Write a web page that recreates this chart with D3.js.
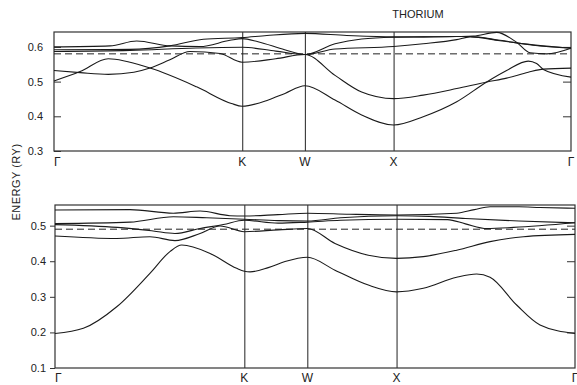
<!DOCTYPE html>
<html>
<head>
<meta charset="utf-8">
<script src="https://cdn.jsdelivr.net/npm/d3@7"></script>
<style>
  body { margin: 0; background: #fff; }
  svg { display: block; font-family: "Liberation Sans", Arial, sans-serif; }
</style>
</head>
<body>
<div id="chart"></div>
<script>
// symmetry points along the path (fcc distances, units of 2pi/a)
const kLabels = ['Γ', 'K', 'W', 'X', 'Γ'];
const kPos = [0, 1.061, 1.414, 1.914, 2.914];

// upper panel, energies in Ry
const topTicks = [0.3, 0.4, 0.5, 0.6];
const topFermi = 0.58;
const topBand1 = [[0,0.502],[0.147,0.529],[0.306,0.566],[0.541,0.539],[0.804,0.485],[1.0,0.437],[1.061,0.429],[1.208,0.447],[1.302,0.466],[1.414,0.488],[1.584,0.447],[1.734,0.404],[1.914,0.375],[2.081,0.399],[2.27,0.442],[2.439,0.499],[2.551,0.532],[2.673,0.559],[2.72,0.552],[2.758,0.535],[2.914,0.513]];
const topBand2 = [[0,0.532],[0.147,0.526],[0.306,0.521],[0.45,0.527],[0.541,0.539],[0.65,0.562],[0.766,0.587],[0.936,0.581],[1.061,0.556],[1.25,0.566],[1.414,0.578],[1.584,0.518],[1.734,0.470],[1.914,0.451],[2.081,0.461],[2.27,0.480],[2.439,0.499],[2.551,0.510],[2.673,0.527],[2.758,0.536],[2.914,0.539]];
const topBand3 = [[0,0.587],[0.428,0.590],[0.8,0.597],[1.061,0.599],[1.25,0.588],[1.414,0.578],[1.584,0.594],[1.914,0.601],[2.081,0.609],[2.27,0.621],[2.345,0.629],[2.514,0.618],[2.701,0.606],[2.914,0.596]];
const topBand4 = [[0,0.600],[0.316,0.603],[0.466,0.617],[0.654,0.603],[0.823,0.601],[0.992,0.619],[1.061,0.624],[1.15,0.615],[1.3,0.592],[1.414,0.578],[1.584,0.609],[1.734,0.623],[1.914,0.628],[2.081,0.629],[2.27,0.630],[2.345,0.630],[2.514,0.619],[2.701,0.605],[2.914,0.597]];
const topBand5 = [[0,0.592],[0.428,0.593],[0.654,0.603],[0.842,0.622],[1.061,0.627],[1.2,0.633],[1.414,0.639],[1.65,0.633],[1.914,0.629],[2.081,0.629],[2.27,0.630],[2.363,0.631],[2.495,0.642],[2.608,0.613],[2.683,0.583],[2.777,0.580],[2.914,0.596]];

// lower panel
const botTicks = [0.1, 0.2, 0.3, 0.4, 0.5];
const botFermi = 0.49;
const botBand1 = [[0,0.197],[0.159,0.2115],[0.346,0.272],[0.532,0.366],[0.644,0.427],[0.710,0.4455],[0.869,0.422],[1.018,0.380],[1.061,0.372],[1.093,0.370],[1.195,0.382],[1.289,0.399],[1.414,0.411],[1.569,0.375],[1.756,0.333],[1.914,0.314],[2.064,0.324],[2.251,0.355],[2.363,0.364],[2.438,0.355],[2.587,0.277],[2.718,0.221],[2.914,0.197]];
const botBand2 = [[0,0.471],[0.346,0.464],[0.532,0.469],[0.672,0.458],[0.813,0.478],[0.925,0.499],[1.061,0.483],[1.25,0.488],[1.414,0.492],[1.569,0.450],[1.756,0.417],[1.914,0.408],[2.064,0.413],[2.251,0.431],[2.438,0.455],[2.625,0.469],[2.914,0.4755]];
const botBand3 = [[0,0.503],[0.35,0.495],[0.55,0.485],[0.672,0.478],[0.813,0.492],[0.943,0.503],[1.061,0.515],[1.25,0.507],[1.414,0.510],[1.6,0.515],[1.914,0.518],[2.2,0.517],[2.3,0.505],[2.42,0.492],[2.57,0.495],[2.914,0.508]];
const botBand4 = [[0,0.506],[0.42,0.510],[0.663,0.525],[0.85,0.522],[1.061,0.518],[1.25,0.514],[1.414,0.513],[1.6,0.522],[1.914,0.528],[2.1,0.526],[2.3,0.520],[2.6,0.513],[2.914,0.508]];
const botBand5 = [[0,0.544],[0.42,0.545],[0.663,0.535],[0.813,0.541],[0.98,0.528],[1.061,0.527],[1.25,0.531],[1.414,0.535],[1.65,0.532],[1.914,0.530],[2.251,0.535],[2.35,0.545],[2.438,0.553],[2.6,0.553],[2.718,0.551],[2.914,0.549]];

const width = 577, height = 385;

const svg = d3.select('#chart')
  .append('svg')
  .attr('width', width)
  .attr('height', height);

const panels = [
  { x0: 54, x1: 571, y0: 32, y1: 151, dom: [0.3, 0.643], ticks: topTicks, rticks: [0.4, 0.5, 0.6],
    inside: true, fermi: topFermi, bands: [topBand1, topBand2, topBand3, topBand4, topBand5], labY: 166 },
  { x0: 55, x1: 575, y0: 205, y1: 368, dom: [0.1, 0.558], ticks: botTicks, rticks: [0.2, 0.3, 0.4, 0.5],
    inside: false, fermi: botFermi, bands: [botBand1, botBand2, botBand3, botBand4, botBand5], labY: 382 }
];

panels.forEach(p => {
  const x = d3.scaleLinear().domain([0, kPos[kPos.length - 1]]).range([p.x0, p.x1]);
  const y = d3.scaleLinear().domain(p.dom).range([p.y1, p.y0]);
  const g = svg.append('g');

  // symmetry lines
  g.append('g')
    .attr('transform', `translate(0,${p.y1})`)
    .call(d3.axisBottom(x).tickValues(kPos.slice(1, -1)).tickSize(-(p.y1 - p.y0)).tickFormat(''))
    .call(a => a.select('.domain').remove())
    .selectAll('line').attr('stroke', '#222');

  // frame
  g.append('rect')
    .attr('x', p.x0).attr('y', p.y0)
    .attr('width', p.x1 - p.x0).attr('height', p.y1 - p.y0)
    .attr('fill', 'none').attr('stroke', '#333').attr('stroke-width', 1.2);

  // left axis
  const left = d3.axisLeft(y).tickValues(p.ticks).tickFormat(d3.format('.1f'));
  if (p.inside) left.tickSize(-7).tickPadding(11); else left.tickSize(5).tickPadding(4);
  g.append('g')
    .attr('transform', `translate(${p.x0},0)`)
    .call(left)
    .call(a => a.select('.domain').remove())
    .call(a => a.selectAll('text').attr('font-size', 11).attr('fill', '#222').style('font-family', '"Liberation Sans", Arial, sans-serif'))
    .selectAll('line').attr('stroke', '#333');

  // right ticks
  g.append('g')
    .attr('transform', `translate(${p.x1},0)`)
    .call(d3.axisRight(y).tickValues(p.rticks).tickSize(-8).tickFormat(''))
    .call(a => a.select('.domain').remove())
    .selectAll('line').attr('stroke', '#333');

  // fermi level
  g.append('line')
    .attr('x1', p.x0).attr('x2', p.x1)
    .attr('y1', y(p.fermi)).attr('y2', y(p.fermi))
    .attr('stroke', '#222').attr('stroke-width', 1)
    .attr('stroke-dasharray', '7,4');

  // bands
  const line = d3.line()
    .x(d => x(d[0]))
    .y(d => y(d[1]))
    .curve(d3.curveMonotoneX);

  g.selectAll('path.band')
    .data(p.bands)
    .enter()
    .append('path')
    .attr('class', 'band')
    .attr('d', line)
    .attr('fill', 'none')
    .attr('stroke', '#1a1a1a')
    .attr('stroke-width', 1.1);

  // k-point labels
  g.selectAll('text.kl')
    .data(kLabels)
    .enter()
    .append('text')
    .attr('class', 'kl')
    .attr('x', (d, i) => x(kPos[i]))
    .attr('y', p.labY)
    .attr('text-anchor', (d, i) => i === 0 ? 'start' : 'middle')
    .attr('font-size', 12)
    .attr('fill', '#222')
    .text(d => d);
});

svg.append('text')
  .attr('x', 418).attr('y', 17.5)
  .attr('text-anchor', 'middle')
  .attr('font-size', 11)
  .attr('fill', '#222')
  .text('THORIUM');

svg.append('text')
  .attr('transform', 'translate(20,182) rotate(-90)')
  .attr('text-anchor', 'middle')
  .attr('font-size', 11)
  .attr('letter-spacing', 0.5)
  .attr('fill', '#222')
  .text('ENERGY (RY)');
</script>
</body>
</html>
